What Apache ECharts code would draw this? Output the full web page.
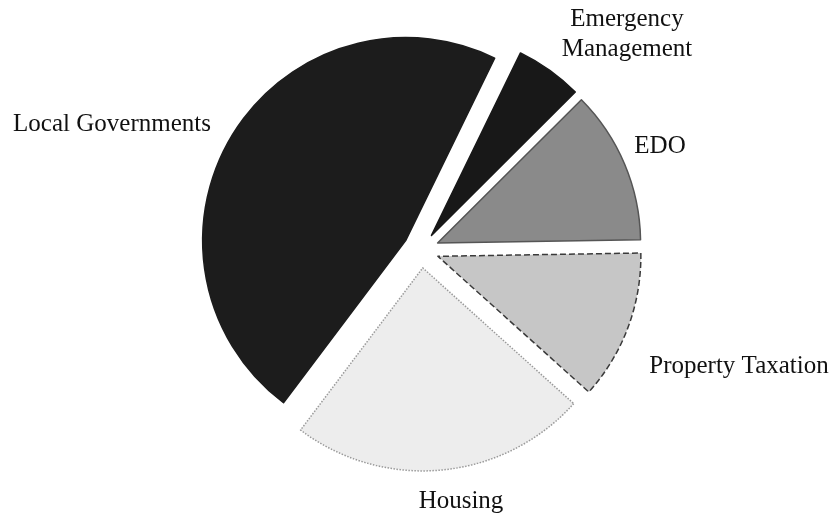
<!DOCTYPE html>
<html>
<head>
<meta charset="utf-8">
<script src="https://cdn.jsdelivr.net/npm/echarts@6/dist/echarts.min.js"></script>
<style>
  html, body { margin: 0; padding: 0; background: #fff; }
  #main { width: 835px; height: 518px; }
</style>
</head>
<body>
<div id="main"></div>
<script>
// slices, clockwise from the lower-left edge of Local Governments
var categories = ['Local Governments', 'Emergency\nManagement', 'EDO', 'Property Taxation', 'Housing'];
var shares = [46.9, 5.3, 12.2, 11.9, 23.6];

// where each label sits (text centre)
var labelX = [112, 627, 660, 739, 461];
var labelY = [124, 34, 146, 366, 501];

var fills = ['#1c1c1c', '#181818', '#8a8a8a', '#c6c6c6', '#ededed'];
var borders = ['#1c1c1c', '#181818', '#555555', '#3a3a3a', '#9a9a9a'];
var borderTypes = ['solid', 'solid', 'solid', 'dashed', 'dotted'];

var chart = echarts.init(document.getElementById('main'), null, { renderer: 'canvas' });

var pieData = [];
var labels = [];
for (var i = 0; i < categories.length; i++) {
  var st = {
    color: fills[i],
    borderColor: borders[i],
    borderWidth: 1.5,
    borderType: borderTypes[i]
  };
  pieData.push({
    name: categories[i],
    value: shares[i],
    selected: true,
    itemStyle: st,
    select: { itemStyle: st }
  });
  labels.push({
    type: 'text',
    x: labelX[i],
    y: labelY[i],
    silent: true,
    style: {
      text: categories[i],
      fill: '#111',
      font: '25px "Liberation Serif", "DejaVu Serif", serif',
      lineHeight: 30,
      textAlign: 'center',
      textVerticalAlign: 'middle'
    }
  });
}

var option = {
  backgroundColor: '#ffffff',
  animation: false,
  graphic: labels,
  series: [{
    type: 'pie',
    center: [421, 250],
    radius: [0, 203],
    startAngle: 233,
    clockwise: true,
    sort: null,
    selectedMode: 'multiple',
    selectedOffset: 18,
    emphasis: { disabled: true },
    label: { show: false },
    labelLine: { show: false },
    data: pieData
  }]
};

chart.setOption(option);
</script>
</body>
</html>
